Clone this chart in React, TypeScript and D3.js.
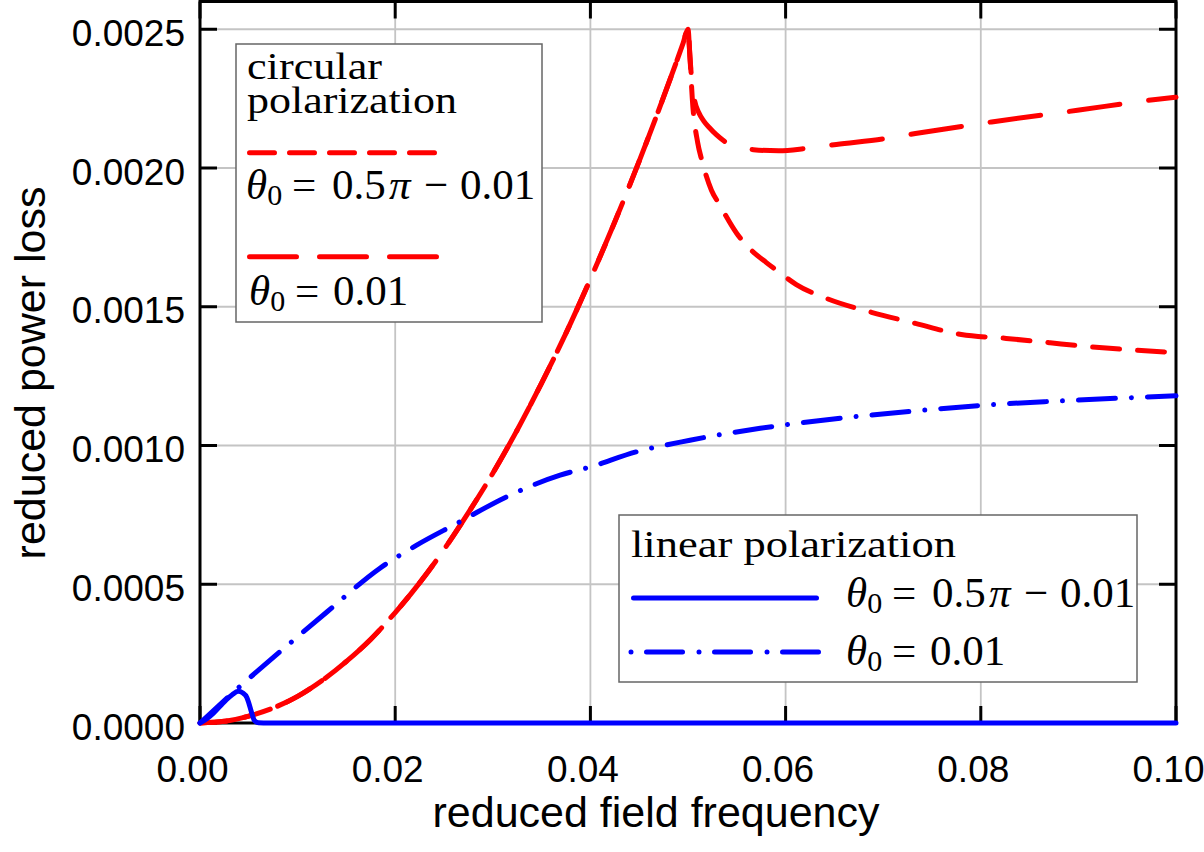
import * as d3 from "d3"

const xTicks = [0, 0.02, 0.04, 0.06, 0.08, 0.1]
const xTickLabels = ["0.00", "0.02", "0.04", "0.06", "0.08", "0.10"]
const yTicks = [0, 0.0005, 0.001, 0.0015, 0.002, 0.0025]
const yTickLabels = ["0.0000", "0.0005", "0.0010", "0.0015", "0.0020", "0.0025"]

// circular polarization, rising branch (both θ0 values coincide up to the peak)
const riseFreq = [0, 0.0025, 0.005, 0.0075, 0.01, 0.0125, 0.015, 0.0175, 0.02, 0.0225, 0.025, 0.0275, 0.03, 0.0325, 0.035, 0.0375, 0.04, 0.0425, 0.045, 0.0475, 0.0495, 0.05]
const riseLoss = [0, 0.000006, 0.000025, 0.000054, 0.000096, 0.000153, 0.000222, 0.000302, 0.000398, 0.000505, 0.000625, 0.000758, 0.0009, 0.001056, 0.001225, 0.001405, 0.0016, 0.001806, 0.002025, 0.002256, 0.00245, 0.0025]

// circular, θ0 = 0.5π − 0.01, after the peak
const circHighFreq = [0.0502, 0.05044, 0.051, 0.0514, 0.0524, 0.0532, 0.055, 0.0566, 0.058, 0.0595, 0.0611, 0.0642, 0.0688, 0.0733, 0.078, 0.0826, 0.0871, 0.0918, 0.1]
const circHighLoss = [0.0024, 0.00225, 0.00209, 0.00203, 0.00192, 0.00187, 0.001764, 0.0017, 0.00166, 0.00162, 0.00158, 0.00153, 0.00148, 0.00144, 0.0014, 0.001386, 0.00137, 0.001354, 0.001335]

// circular, θ0 = 0.01, after the peak
const circLowFreq = [0.0502, 0.0504, 0.0507, 0.0511, 0.0516, 0.0522, 0.0529, 0.0538, 0.055, 0.0567, 0.0593, 0.062, 0.0652, 0.07, 0.0733, 0.0811, 0.0899, 0.0979, 0.1]
const circLowLoss = [0.0024, 0.00231, 0.00224, 0.0022, 0.00217, 0.002145, 0.00212, 0.002095, 0.002078, 0.002066, 0.002062, 0.00207, 0.002085, 0.002105, 0.002124, 0.002166, 0.002208, 0.002247, 0.002255]

// linear polarization, θ0 = 0.5π − 0.01
const linHighFreq = [0, 0.0007, 0.0014, 0.0021, 0.0027, 0.0033, 0.0039, 0.0044, 0.0048, 0.005, 0.0053, 0.0056, 0.006, 0.007, 0.1]
const linHighLoss = [0, 0.000015, 0.000036, 0.000062, 0.000084, 0.000102, 0.000114, 0.000108, 0.000092, 0.000072, 0.000036, 0.000008, 0.000001, 0, 0]

// linear polarization, θ0 = 0.01
const linLowFreq = [0, 0.0039, 0.0084, 0.013, 0.0184, 0.0222, 0.0263, 0.0314, 0.0369, 0.04, 0.0447, 0.0502, 0.0574, 0.0605, 0.0734, 0.0806, 0.0878, 0.0951, 0.1]
const linLowLoss = [0, 0.000126, 0.000263, 0.0004, 0.000557, 0.000641, 0.000719, 0.000815, 0.000893, 0.000923, 0.000977, 0.001019, 0.001062, 0.001077, 0.001125, 0.001146, 0.00116, 0.001172, 0.001179]

const W = 1204
const H = 852
const left = 200
const right = 1176
const top = 1.5
const bottom = 723

const sans = "'Liberation Sans', Arial, sans-serif"
const serif = "'Liberation Serif', 'Times New Roman', serif"
const RED = "#ff0000"
const BLUE = "#0000ff"

const zip = (xs: number[], ys: number[]) => xs.map((v, i) => [v, ys[i]] as [number, number])

function Eq({ x, y, long }: { x: number; y: number; long: boolean }) {
  return (
    <text x={x} y={y} fontFamily={serif} fontSize={43} fill="#000">
      <tspan fontStyle="italic">θ</tspan>
      <tspan fontSize={30} dy={6}>0</tspan>
      <tspan x={x + 46} dy={-6}>=</tspan>
      {long ? (
        <>
          <tspan x={x + 86}>0.5</tspan>
          <tspan x={x + 143} fontStyle="italic">π</tspan>
          <tspan x={x + 178}>−</tspan>
          <tspan x={x + 214}>0.01</tspan>
        </>
      ) : (
        <tspan x={x + 84}>0.01</tspan>
      )}
    </text>
  )
}

export default function App() {
  const x = d3.scaleLinear().domain([0, 0.1]).range([left, right])
  const y = d3.scaleLinear().domain([0, 0.0026]).range([bottom, top])

  const line = d3
    .line<[number, number]>()
    .x((d) => x(d[0]))
    .y((d) => y(d[1]))
    .curve(d3.curveMonotoneX)

  const rise = zip(riseFreq, riseLoss)
  const circHigh = line(rise.concat(zip(circHighFreq, circHighLoss))) || ""
  const circLow = line(rise.concat(zip(circLowFreq, circLowLoss))) || ""
  const linHigh = line(zip(linHighFreq, linHighLoss)) || ""
  const linLow = line(zip(linLowFreq, linLowLoss)) || ""

  const tick = 17

  return (
    <svg width={W} height={H} style={{ position: "absolute", left: 0, top: 0, background: "#fff" }}>
      {/* grid */}
      <g stroke="#c4c4c4" strokeWidth={1.8}>
        {xTicks.slice(1, -1).map((t) => (
          <line key={t} x1={x(t)} x2={x(t)} y1={top} y2={bottom} />
        ))}
        {yTicks.slice(1).map((t) => (
          <line key={t} x1={left} x2={right} y1={y(t)} y2={y(t)} />
        ))}
      </g>

      {/* frame and inward ticks */}
      <g stroke="#000" strokeWidth={3}>
        <rect x={left} y={top} width={right - left} height={bottom - top} fill="none" />
        {xTicks.map((t) => (
          <g key={t}>
            <line x1={x(t)} x2={x(t)} y1={bottom} y2={bottom - tick} />
            <line x1={x(t)} x2={x(t)} y1={top} y2={top + tick} />
          </g>
        ))}
        {yTicks.map((t) => (
          <g key={t}>
            <line x1={left} x2={left + tick} y1={y(t)} y2={y(t)} />
            <line x1={right} x2={right - tick} y1={y(t)} y2={y(t)} />
          </g>
        ))}
      </g>

      {/* tick labels */}
      <g fontFamily={sans} fontSize={37} fill="#000">
        {xTicks.map((t, i) => (
          <text key={t} x={x(t) - 7.5} y={782} textAnchor="middle">
            {xTickLabels[i]}
          </text>
        ))}
        {yTicks.map((t, i) => (
          <text key={t} x={185} y={y(t) + 16.5} textAnchor="end">
            {yTickLabels[i]}
          </text>
        ))}
      </g>

      {/* axis titles */}
      <text x={656} y={827} textAnchor="middle" fontFamily={sans} fontSize={43}>
        reduced field frequency
      </text>
      <text
        transform="translate(45,373) rotate(-90)"
        textAnchor="middle"
        fontFamily={sans}
        fontSize={43}
      >
        reduced power loss
      </text>

      {/* curves */}
      <g fill="none" strokeWidth={5} strokeLinecap="round" strokeLinejoin="round">
        <path d={circLow} stroke={RED} strokeDasharray="51 29" />
        <path d={circHigh} stroke={RED} strokeDasharray="27 18" />
        <path d={linLow} stroke={BLUE} strokeDasharray="37 16 0.01 16" />
        <path d={linHigh} stroke={BLUE} />
      </g>

      {/* circular polarization legend */}
      <g>
        <rect x={236} y={44} width={306} height={278} fill="#fff" stroke="#666" strokeWidth={1.5} />
        <text fontFamily={serif} fontSize={37}>
          <tspan x={247} y={79} textLength={135} lengthAdjust="spacingAndGlyphs">
            circular
          </tspan>
          <tspan x={247} y={113} textLength={210} lengthAdjust="spacingAndGlyphs">
            polarization
          </tspan>
        </text>
        <line x1={249.5} x2={437.5} y1={152.7} y2={152.7} stroke={RED} strokeWidth={5} strokeLinecap="round" strokeDasharray="25 15" />
        <Eq x={246} y={199} long={true} />
        <line x1={249.5} x2={437.5} y1={256.7} y2={256.7} stroke={RED} strokeWidth={5} strokeLinecap="round" strokeDasharray="47 23" />
        <Eq x={249} y={305} long={false} />
      </g>

      {/* linear polarization legend */}
      <g>
        <rect x={619} y={515} width={518} height={167} fill="#fff" stroke="#666" strokeWidth={1.5} />
        <text x={631} y={557} fontFamily={serif} fontSize={38} textLength={325} lengthAdjust="spacingAndGlyphs">
          linear polarization
        </text>
        <line x1={633.5} x2={816.5} y1={598} y2={598} stroke={BLUE} strokeWidth={5} strokeLinecap="round" />
        <Eq x={846} y={607} long={true} />
        <line x1={631} x2={818.5} y1={652} y2={652} stroke={BLUE} strokeWidth={5} strokeLinecap="round" strokeDasharray="0.01 15.5 36 16.5" />
        <Eq x={846} y={665} long={false} />
      </g>
    </svg>
  )
}
